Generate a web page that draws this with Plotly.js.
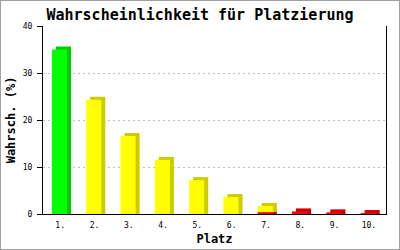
<!DOCTYPE html>
<html><head><meta charset="utf-8">
<script src="https://cdn.plot.ly/plotly-3.0.1.min.js"></script>
<style>
body{margin:0;background:#fff}
#chart{width:398px;height:248px;border:1px solid #a0a0a0}
</style>
</head><body><div id="chart"></div>
<script>
// ---- data ----
const places = ["1.","2.","3.","4.","5.","6.","7.","8.","9.","10."];
const greenValues  = [35.0, null, null, null, null, null, null, null, null, null];
const yellowValues = [null, 24.3, 16.6, 11.5, 7.2, 3.6, 1.3, null, null, null];
const redValues    = [null, null, null, null, null, null, 0.4, 0.55, 0.35, 0.2];
const titleText = "Wahrscheinlichkeit für Platzierung";
const xTitle = "Platz";
const yTitle = "Wahrsch. (%)";

// ---- style ----
const MONO = "DejaVu Sans Mono, Liberation Mono, monospace";
const W = 0.44, OFF = -0.24;      // front face width/offset (category units)
const DX = 0.117, DY = 0.64;      // 3D depth (x in category units, y in value units)

const redBase = redValues.map(() => 0);
const yellowBase = redValues.map(v => v || 0);
const greenBase = greenValues.map(() => 0);

const series = [
  {vals: redValues, base: redBase, front: "#ff0000", side: "#cc0000"},
  {vals: yellowValues, base: yellowBase, front: "#ffff00", side: "#cccc00"},
  {vals: greenValues, base: greenBase, front: "#00ff00", side: "#00cc00"}
];

const traces = [];
// extruded depth (side + top faces), drawn behind the front faces
series.forEach(s => {
  traces.push({type: "bar", x: places, y: s.vals.map(v => v == null ? null : v + DY), base: s.base,
    width: W, offset: OFF + DX, marker: {color: s.side, line: {width: 0}},
    hoverinfo: "skip", showlegend: false});
});
series.forEach(s => {
  traces.push({type: "bar", x: places, y: s.vals, base: s.base,
    width: W, offset: OFF, marker: {color: s.front, line: {width: 0}},
    hoverinfo: "skip", showlegend: false});
});

const layout = {
  width: 398, height: 248,
  margin: {l: 42, r: 13, t: 25, b: 35},
  paper_bgcolor: "#ffffff", plot_bgcolor: "#ffffff",
  barmode: "overlay",
  showlegend: false,
  font: {family: MONO, color: "#000000"},
  title: {text: titleText, font: {family: MONO, size: 15, weight: "bold", color: "#000"},
          x: 0.5, xref: "container", xanchor: "center",
          y: 1 - 14/248, yref: "container", yanchor: "middle"},
  xaxis: {
    type: "category", categoryarray: places, range: [-0.5, 9.5],
    showline: true, linecolor: "#000", linewidth: 1, mirror: false,
    ticks: "", showgrid: false, zeroline: false, fixedrange: true,
    ticklabelstandoff: 3,
    tickfont: {family: MONO, size: 8, color: "#000"},
    title: {text: xTitle, font: {family: MONO, size: 12, weight: "bold", color: "#000"}, standoff: 6}
  },
  yaxis: {
    range: [0, 40], dtick: 10, tick0: 0,
    showline: true, linecolor: "#000", linewidth: 1, mirror: true,
    ticks: "outside", ticklen: 5, tickcolor: "#000", tickwidth: 1,
    ticklabelstandoff: 3,
    showgrid: true, gridcolor: "#c0c0c0", gridwidth: 1, griddash: "2px,3px",
    zeroline: false, fixedrange: true,
    tickfont: {family: MONO, size: 8, color: "#000"},
    title: {text: yTitle, font: {family: MONO, size: 12, weight: "bold", color: "#000"}, standoff: 4}
  }
};

Plotly.newPlot("chart", traces, layout, {displayModeBar: false, staticPlot: true});
</script>
</body></html>
